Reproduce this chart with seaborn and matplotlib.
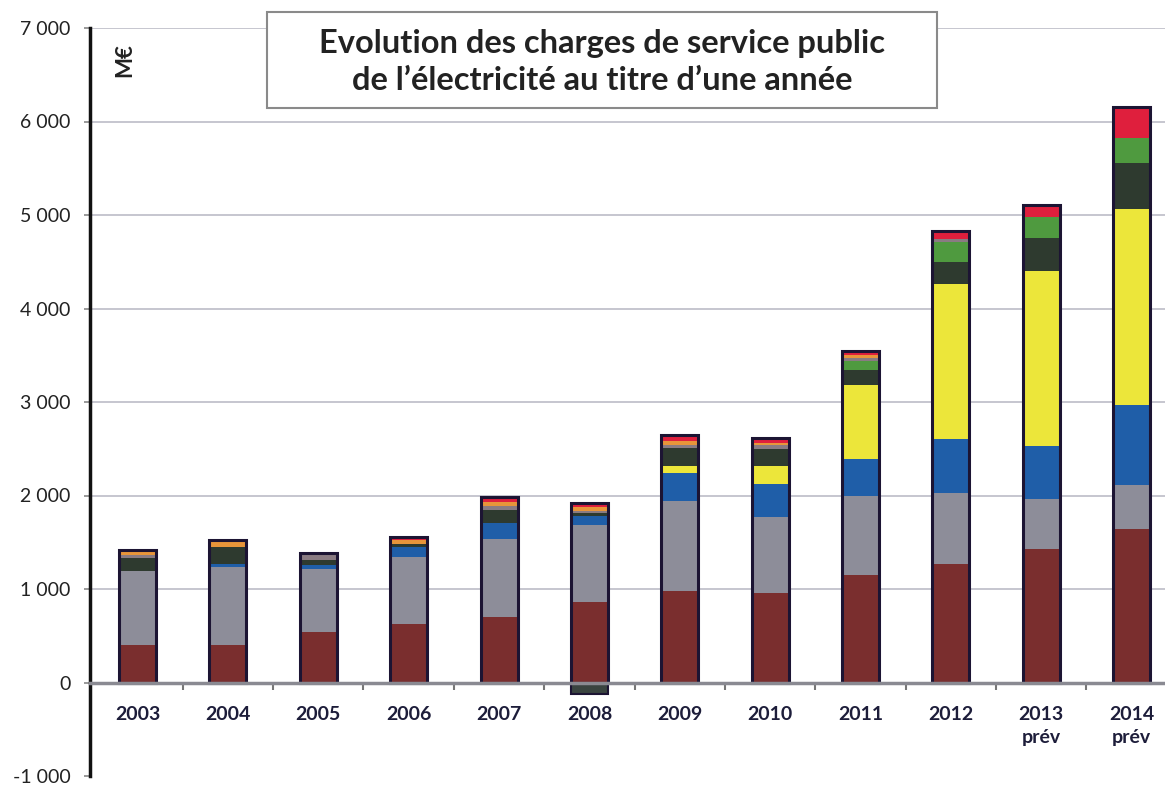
import numpy as np
import matplotlib
matplotlib.use("Agg")
import matplotlib.pyplot as plt
import seaborn as sns
from matplotlib.patches import Rectangle

# ---------------- data (M€) ----------------
years = ["2003", "2004", "2005", "2006", "2007", "2008", "2009", "2010",
         "2011", "2012", "2013\nprév", "2014\nprév"]
zni        = [405, 403, 545, 626, 704, 856, 980, 962, 1150, 1270, 1430, 1638]
cogen      = [785, 831, 664, 714, 834, 824, 961, 813, 840, 758, 533, 476]
eolien     = [0, 35, 50, 106, 166, 106, 300, 350, 405, 572, 563, 858]
photovolt  = [0, 0, 0, 0, 0, 0, 75, 190, 790, 1660, 1876, 2097]
autres_enr = [140, 185, 55, 30, 141, 25, 190, 180, 160, 240, 355, 490]
biomasse   = [0, 0, 0, 0, 0, 0, 0, 0, 90, 215, 217, 260]
hydraul    = [30, 0, 55, 0, 47, 20, 36, 45, 40, 30, 0, 0]
tarifs_soc = [40, 50, 0, 50, 42, 50, 45, 20, 25, 0, 0, 0]
divers     = [15, 20, 15, 25, 45, 35, 60, 60, 50, 85, 130, 340]
autres_neg = [0, 0, 0, 0, 0, -120, 0, 0, 0, 0, 0, 0]

series = [
    (zni, "#7a2e2e"),
    (cogen, "#8d8d99"),
    (eolien, "#1f5ea8"),
    (photovolt, "#ece63a"),
    (autres_enr, "#2e3a2f"),
    (biomasse, "#4f9a3f"),
    (hydraul, "#8a7b82"),
    (tarifs_soc, "#e8953a"),
    (divers, "#df1f3d"),
]

sns.set_style("white")
plt.rcParams['font.family'] = ['Lato', 'DejaVu Sans']

fig = plt.figure(figsize=(11.65, 7.87), dpi=100)
top_px, bot_px = 28, 776
ax = fig.add_axes([0.077, 1 - bot_px / 787, 0.923, (bot_px - top_px) / 787])

# gridlines
for v in range(1000, 7001, 1000):
    ax.axhline(v, color="#c6c6cf", lw=1.4, zorder=0)

stack = np.cumsum(np.array([s for s, _ in series], dtype=float), axis=0)
for level in range(len(series) - 1, -1, -1):
    sns.barplot(x=years, y=stack[level], order=years, color=series[level][1],
                saturation=1, width=0.41, ax=ax, errorbar=None, linewidth=0)

# negative part (2008)
neg_x = [y for y, v in zip(years, autres_neg) if v != 0]
neg_v = [v for v in autres_neg if v != 0]
sns.barplot(x=neg_x, y=neg_v, order=years, color="#3a4440", saturation=1,
            width=0.41, ax=ax, errorbar=None, edgecolor="#1c1433", linewidth=1.5)

# outlines
sns.barplot(x=years, y=stack[-1], order=years, color="#1c1433", fill=False,
            width=0.41, ax=ax, errorbar=None, linewidth=2.2)

ax.set_xlim(-0.53, 11.37)
ax.set_ylim(-1000, 7000)
ax.set_xlabel("")
ax.set_ylabel("")

yt = list(range(-1000, 7001, 1000))
ax.set_yticks(yt)
ax.set_yticklabels([f"{v:,}".replace(",", " ") for v in yt], fontsize=14,
                   color="#222222")
ax.tick_params(axis="y", length=4, width=1.2, color="#888888", pad=10,
               direction="out", left=True)

ax.spines["top"].set_visible(False)
ax.spines["right"].set_visible(False)
ax.spines["left"].set_color("#111111")
ax.spines["left"].set_linewidth(2.5)
ax.spines["bottom"].set_position(("data", 0))
ax.spines["bottom"].set_color("#8a8a92")
ax.spines["bottom"].set_linewidth(2.5)

ax.set_xticks(range(len(years)))
ax.set_xticklabels(years, fontsize=14, fontweight="bold", color="#1d1d3a",
                   va="top", linespacing=1.45)
ax.tick_params(axis="x", which="major", length=0, pad=17)
ax.set_xticks(np.arange(0.5, len(years) - 1, 1), minor=True)
ax.tick_params(axis="x", which="minor", length=5, width=1.5, color="#777777",
               direction="out", bottom=True)

fig.text(125 / 1165, 1 - 60 / 787, "M€", rotation=90, fontsize=16,
         fontweight="bold", color="#222222", ha="center", va="center")

box = Rectangle((267 / 1165, 1 - 108 / 787), 670 / 1165, 96 / 787,
                transform=fig.transFigure, facecolor="white",
                edgecolor="#8a8a8a", lw=1.5, zorder=5)
fig.add_artist(box)
fig.text(602 / 1165, 1 - 44 / 787, "Evolution des charges de service public",
         fontsize=23.5, fontweight="bold", color="#222222", ha="center",
         va="center", zorder=6)
fig.text(602 / 1165, 1 - 81 / 787, "de l’électricité au titre d’une année",
         fontsize=23.5, fontweight="bold", color="#222222", ha="center",
         va="center", zorder=6)

fig.savefig("out.png", dpi=100)
